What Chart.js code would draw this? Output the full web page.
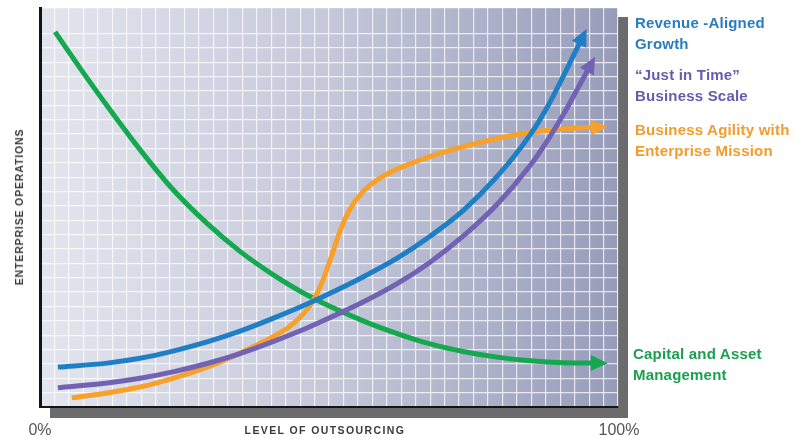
<!DOCTYPE html>
<html lang="en">
<head>
    <title>Level of Outsourcing vs Enterprise Operations</title>
    <meta charset="UTF-8">

    <!-- Include Chart.js library -->
    <script src="https://cdn.jsdelivr.net/npm/chart.js"></script>

    <style>
        body { margin: 0; background: #ffffff; font-family: "Liberation Sans", Arial, sans-serif; }
        #wrap { position: relative; width: 795px; height: 438px; overflow: hidden; }
        canvas { position: absolute; left: 0; top: 0; }
        .lbl { position: absolute; font-weight: bold; font-size: 15px; line-height: 21px; white-space: nowrap; letter-spacing: 0.2px; }
        .axis { position: absolute; font-weight: bold; font-size: 10.5px; color: #3a3a3a; white-space: nowrap; }
        .pct { position: absolute; font-size: 16px; color: #555555; white-space: nowrap; }
    </style>
</head>
<body>
    <div id="wrap">
        <canvas id="outsourcingChart" width="795" height="438"></canvas>

        <!-- Curve labels on the right -->
        <div class="lbl" style="left:635px; top:12px; color:#2a7cc0;">Revenue -Aligned<br>Growth</div>
        <div class="lbl" style="left:635px; top:64px; color:#6a5aad;">&ldquo;Just in Time&rdquo;<br>Business Scale</div>
        <div class="lbl" style="left:635px; top:119px; color:#f39c2c;">Business Agility with<br>Enterprise Mission</div>
        <div class="lbl" style="left:633px; top:343px; color:#1a9f4e;">Capital and Asset<br>Management</div>

        <!-- Axis texts -->
        <div class="axis" style="left:19px; top:207px; letter-spacing:0.85px; transform: translate(-50%, -50%) rotate(-90deg);">ENTERPRISE OPERATIONS</div>
        <div class="axis" style="left:325px; top:430px; letter-spacing:1.4px; transform: translate(-50%, -50%);">LEVEL OF OUTSOURCING</div>
        <div class="pct" style="left:40px; top:430px; transform: translate(-50%, -50%);">0%</div>
        <div class="pct" style="left:619px; top:430px; transform: translate(-50%, -50%);">100%</div>
    </div>

    <script>
        // Level of outsourcing (x, %) and enterprise operations (y)
        const revenueX  = [3.1, 11.6, 17.3, 23.0, 28.9, 34.6, 40.3, 46.2, 50.2, 55.9, 61.8, 67.5, 73.2, 79.1, 84.8, 87.7, 90.5, 93.8];
        const revenueY  = [10.0, 11.0, 12.2, 14.0, 16.3, 19.0, 22.2, 25.8, 28.5, 32.6, 37.3, 42.8, 49.2, 57.8, 68.2, 75.0, 82.8, 92.5];

        const scaleX    = [3.1, 11.6, 17.3, 23.0, 28.9, 34.6, 40.3, 46.2, 50.2, 55.9, 61.8, 67.5, 73.2, 79.1, 84.8, 87.7, 90.5, 93.1, 95.2];
        const scaleY    = [4.8, 6.0, 7.2, 8.8, 10.9, 13.4, 16.4, 19.8, 22.4, 26.3, 30.9, 36.3, 42.8, 50.8, 60.5, 66.6, 73.2, 80.0, 85.6];

        const agilityX  = [5.5, 11.6, 17.3, 23.0, 28.9, 34.6, 40.3, 43.0, 45.0, 47.0, 48.6, 50.2, 51.9, 53.6, 55.9, 59.3, 65.2, 70.9, 79.1, 84.8, 90.5, 96.5];
        const agilityY  = [2.3, 3.5, 5.0, 7.2, 10.0, 13.5, 17.6, 20.0, 22.5, 26.0, 30.5, 36.8, 44.0, 49.5, 54.0, 57.8, 61.6, 64.3, 67.3, 68.8, 69.7, 70.1];

        const capitalX  = [2.6, 6.9, 11.6, 17.3, 23.0, 28.9, 34.6, 40.3, 47.2, 55.9, 61.8, 67.5, 73.2, 79.1, 84.8, 90.5, 96.5];
        const capitalY  = [94.0, 85.0, 75.5, 64.5, 54.5, 46.0, 39.0, 33.2, 27.3, 21.6, 18.4, 15.8, 13.9, 12.5, 11.6, 11.1, 11.0];

        const seriesNames  = ['Revenue -Aligned Growth', '"Just in Time" Business Scale', 'Business Agility with Enterprise Mission', 'Capital and Asset Management'];
        const seriesColors = ['#1f7fc4', '#7262b3', '#f7a12a', '#14a84f'];

        // Helper to zip x and y arrays into point objects
        function toPoints(xs, ys) {
            return xs.map((x, i) => ({ x: x, y: ys[i] }));
        }

        // Gradient panel with its drop shadow, drawn behind the grid
        const panelPlugin = {
            id: 'panel',
            beforeDraw(chart) {
                const { ctx, chartArea: a } = chart;
                ctx.save();
                ctx.fillStyle = '#6b6b6d';
                ctx.fillRect(a.left + 10, a.top + 9, a.right - a.left, a.bottom - a.top + 2);
                const grad = ctx.createLinearGradient(a.left, 0, a.right, 0);
                grad.addColorStop(0, '#e3e5ee');
                grad.addColorStop(0.5, '#c5c8d9');
                grad.addColorStop(1, '#979cba');
                ctx.fillStyle = grad;
                ctx.fillRect(a.left, a.top, a.right - a.left, a.bottom - a.top);
                ctx.restore();
            }
        };

        // Arrowheads at the end of each curve, following its last tangent
        const arrowPlugin = {
            id: 'arrows',
            afterDatasetsDraw(chart) {
                const ctx = chart.ctx;
                chart.data.datasets.forEach((ds, i) => {
                    const pts = chart.getDatasetMeta(i).data;
                    const last = pts[pts.length - 1];
                    const prev = pts[pts.length - 2];
                    let dx = last.x - (last.cp1x !== undefined ? last.cp1x : prev.x);
                    let dy = last.y - (last.cp1y !== undefined ? last.cp1y : prev.y);
                    if (Math.abs(dx) + Math.abs(dy) < 0.5) { dx = last.x - prev.x; dy = last.y - prev.y; }
                    const len = Math.hypot(dx, dy);
                    const ux = dx / len, uy = dy / len;
                    const tipX = last.x + ux * 10, tipY = last.y + uy * 10;
                    const baseX = last.x - ux * 7, baseY = last.y - uy * 7;
                    ctx.save();
                    ctx.fillStyle = ds.borderColor;
                    ctx.beginPath();
                    ctx.moveTo(tipX, tipY);
                    ctx.lineTo(baseX - uy * 8, baseY + ux * 8);
                    ctx.lineTo(baseX + uy * 8, baseY - ux * 8);
                    ctx.closePath();
                    ctx.fill();
                    ctx.restore();
                });
            }
        };

        // Create the chart
        function createChart() {
            const datasets = [
                toPoints(revenueX, revenueY),
                toPoints(scaleX, scaleY),
                toPoints(agilityX, agilityY),
                toPoints(capitalX, capitalY),
            ].map((data, i) => ({
                label: seriesNames[i],
                data: data,
                borderColor: seriesColors[i],
                borderWidth: 5,
                borderCapStyle: 'butt',
                pointRadius: 0,
                cubicInterpolationMode: 'monotone',
                fill: false,
            }));

            const ctx = document.getElementById('outsourcingChart').getContext('2d');
            new Chart(ctx, {
                type: 'line',
                data: { datasets: datasets },
                options: {
                    responsive: false,
                    animation: false,
                    devicePixelRatio: 1,
                    layout: { padding: { left: 40, top: 8, right: 177, bottom: 31 } },
                    plugins: {
                        legend: { display: false },
                        tooltip: { enabled: false },
                    },
                    scales: {
                        x: {
                            type: 'linear',
                            min: 0,
                            max: 100,
                            ticks: { display: false, stepSize: 2.5 },
                            grid: { color: 'rgba(255,255,255,0.75)', lineWidth: 1.2, drawTicks: false },
                            border: { display: true, color: '#141414', width: 2 },
                        },
                        y: {
                            min: 0,
                            max: 100,
                            ticks: { display: false, stepSize: 3.6 },
                            grid: { color: 'rgba(255,255,255,0.75)', lineWidth: 1.2, drawTicks: false },
                            border: { display: true, color: '#141414', width: 3 },
                        },
                    },
                },
                plugins: [panelPlugin, arrowPlugin],
            });
        }

        createChart();
    </script>
</body>
</html>
